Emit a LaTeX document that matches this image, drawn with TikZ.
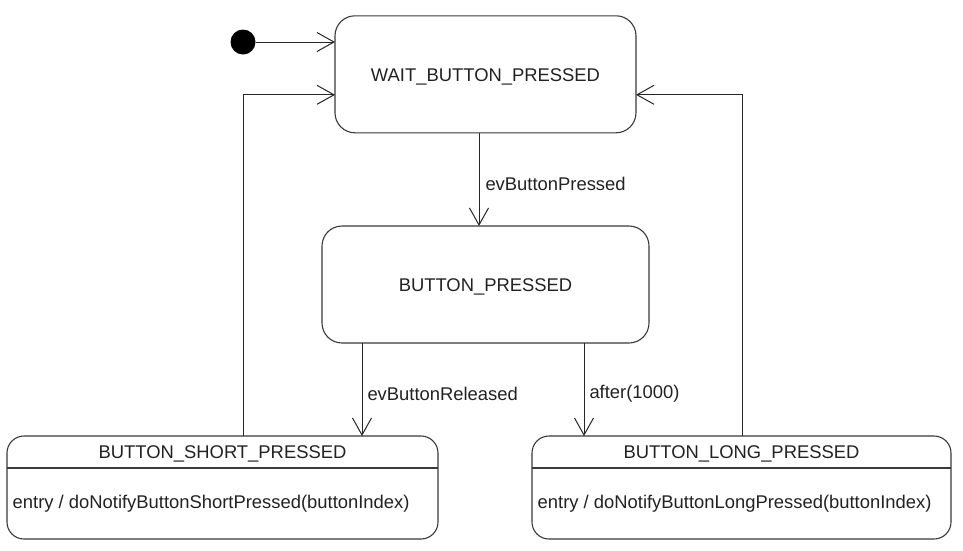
\documentclass[tikz,border=0pt]{standalone}
\usepackage{fontspec}
\setmainfont{Liberation Sans}
\usetikzlibrary{arrows.meta}
\definecolor{edge}{HTML}{3A3A3A}
\definecolor{txt}{HTML}{222222}
\tikzset{
  statebox/.style={draw=edge, line width=1.1pt, rounded corners=20pt, inner sep=0pt, outer sep=0pt, fill=white},
  compbox/.style={draw=edge, line width=1.1pt, rounded corners=17pt, inner sep=0pt, outer sep=0pt, fill=white},
  lbl/.style={text=txt, inner sep=0pt, font=\fontsize{18.4}{22}\selectfont},
  arr/.style={draw=black!85, line width=1pt, -{Straight Barb[length=17pt,width=19pt,line width=1pt]}},
  initdot/.style={circle, fill=black, inner sep=0pt, minimum size=25pt, outer sep=0pt}
}
\begin{document}
\begin{tikzpicture}[x=1pt,y=-1pt]
\useasboundingbox[fill=white] (0,0) rectangle (963,550);
% states
\node[statebox, minimum width=301pt, minimum height=117pt] (wait) at (485.5,74.3) {};
\node[lbl] (waitT) at (485.5,76.5) {WAIT\_BUTTON\_PRESSED};
\node[statebox, minimum width=327pt, minimum height=117pt] (pressed) at (485.5,284.5) {};
\node[lbl] (pressedT) at (485.5,286.5) {BUTTON\_PRESSED};
\node[compbox, minimum width=431pt, minimum height=103pt] (short) at (222.5,487.5) {};
\node[compbox, minimum width=419pt, minimum height=103pt] (long) at (741.5,487.5) {};
\draw[draw=edge, line width=1.1pt] ([yshift=-32pt]short.north west) -- ([yshift=-32pt]short.north east);
\draw[draw=edge, line width=1.1pt] ([yshift=-32pt]long.north west) -- ([yshift=-32pt]long.north east);
\node[lbl] (shortT) at (222.5,454) {BUTTON\_SHORT\_PRESSED};
\node[lbl] (longT) at (741.5,454) {BUTTON\_LONG\_PRESSED};
\node[lbl, anchor=west] (shortE) at (12.5,503.5) {entry / doNotifyButtonShortPressed(buttonIndex)};
\node[lbl, anchor=west] (longE) at (537.5,503.5) {entry / doNotifyButtonLongPressed(buttonIndex)};
% initial
\node[initdot] (init) at (243,42) {};
% transitions
\draw[arr] (init.east) -- (init -| wait.west);
\draw[arr] ([xshift=-6.5pt]wait.south) -- ([xshift=-6.5pt]wait.south |- pressed.north)
  node[lbl, pos=0.55, anchor=west, xshift=6pt] (l1) {evButtonPressed};
\draw[arr] ([xshift=-123.5pt]pressed.south) -- ([xshift=-123.5pt]pressed.south |- short.north)
  node[lbl, pos=0.55, anchor=west, xshift=5pt] (l2) {evButtonReleased};
\draw[arr] ([xshift=98.5pt]pressed.south) -- ([xshift=98.5pt]pressed.south |- long.north)
  node[lbl, pos=0.55, anchor=west, xshift=5pt] (l3) {after(1000)};
\draw[arr] ([xshift=20.5pt]short.north) |- ([yshift=-20.5pt]wait.west);
\draw[arr] ([xshift=0.5pt]long.north) |- ([yshift=-20.5pt]wait.east);
\end{tikzpicture}
\end{document}
